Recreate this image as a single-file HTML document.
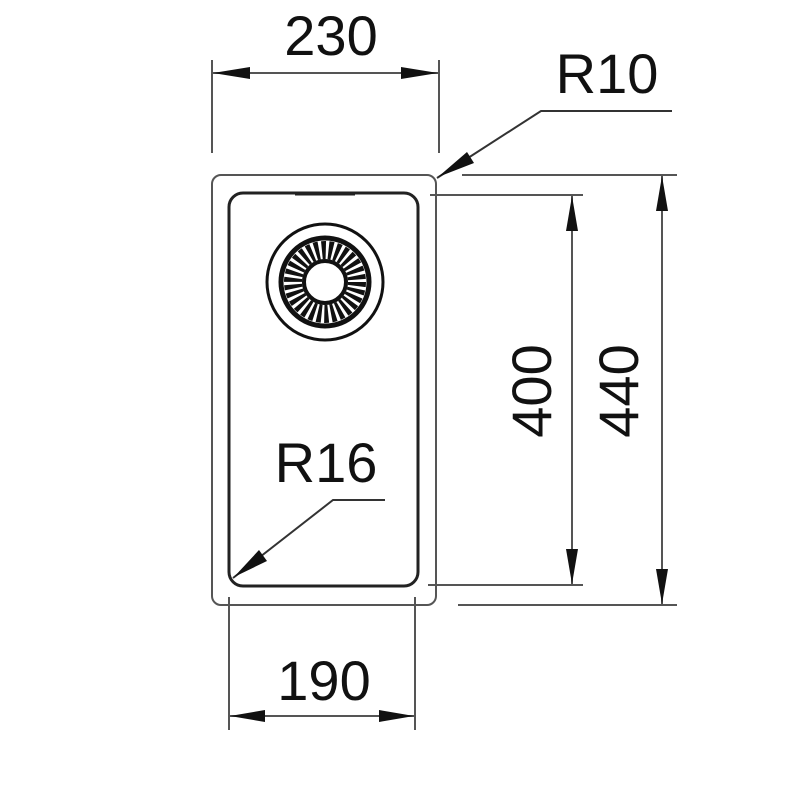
<!DOCTYPE html>
<html><head><style>body{margin:0;background:#fff}svg{display:block}text{font-family:"Liberation Sans",sans-serif;fill:#111}</style></head>
<body>
<svg width="800" height="800" viewBox="0 0 800 800" xmlns="http://www.w3.org/2000/svg">
<g fill="none" stroke="#555" stroke-width="2">
<rect x="212" y="175" width="224" height="430" rx="9"/>
</g>
<rect x="229" y="193" width="189" height="393" rx="14" fill="none" stroke="#222" stroke-width="3"/>
<line x1="295" y1="194" x2="355" y2="194" stroke="#222" stroke-width="3"/>
<!-- drain -->
<circle cx="325" cy="282" r="58" fill="none" stroke="#111" stroke-width="3"/>
<circle cx="325" cy="282" r="44" fill="none" stroke="#111" stroke-width="5"/>
<circle cx="325" cy="282" r="32" fill="none" stroke="#111" stroke-width="18" stroke-dasharray="4 2.7"/>
<circle cx="325" cy="282" r="21" fill="none" stroke="#111" stroke-width="4"/>
<g stroke="#555" stroke-width="2" fill="none">
<!-- 230 -->
<line x1="212" y1="60" x2="212" y2="153"/><line x1="439" y1="60" x2="439" y2="153"/>
<line x1="212" y1="73" x2="439" y2="73"/>
<!-- R10 -->
<polyline points="437,178 541,111 672,111" stroke="#333"/>
<!-- 400 -->
<line x1="430" y1="195" x2="583" y2="195"/><line x1="428" y1="585" x2="583" y2="585"/>
<line x1="572" y1="195" x2="572" y2="585"/>
<!-- 440 -->
<line x1="462" y1="175" x2="677" y2="175"/><line x1="458" y1="605" x2="677" y2="605"/>
<line x1="662" y1="175" x2="662" y2="605"/>
<!-- 190 -->
<line x1="229" y1="597" x2="229" y2="730"/><line x1="415" y1="597" x2="415" y2="730"/>
<line x1="229" y1="716" x2="415" y2="716"/>
<!-- R16 -->
<polyline points="233,578 333,500 385,500" stroke="#333"/>
</g>
<g fill="#111">
<polygon points="213,73 250,67 250,79"/><polygon points="438,73 401,67 401,79"/>
<polygon points="230,716 265,710 265,722"/><polygon points="414,716 379,710 379,722"/>
<polygon points="572,196 566,231 578,231"/><polygon points="572,584 566,549 578,549"/>
<polygon points="662,176 656,211 668,211"/><polygon points="662,604 656,569 668,569"/>
<polygon points="438,177 467,152 474,163"/>
<polygon points="234,577 259,550 267,561"/>
</g>
<g font-size="56">
<text x="331" y="55" text-anchor="middle">230</text>
<text x="607" y="93" text-anchor="middle">R10</text>
<text x="326" y="482" text-anchor="middle">R16</text>
<text x="324" y="700" text-anchor="middle">190</text>
<text transform="translate(551,391) rotate(-90)" text-anchor="middle">400</text>
<text transform="translate(638,391) rotate(-90)" text-anchor="middle">440</text>
</g>
</svg>
</body></html>
